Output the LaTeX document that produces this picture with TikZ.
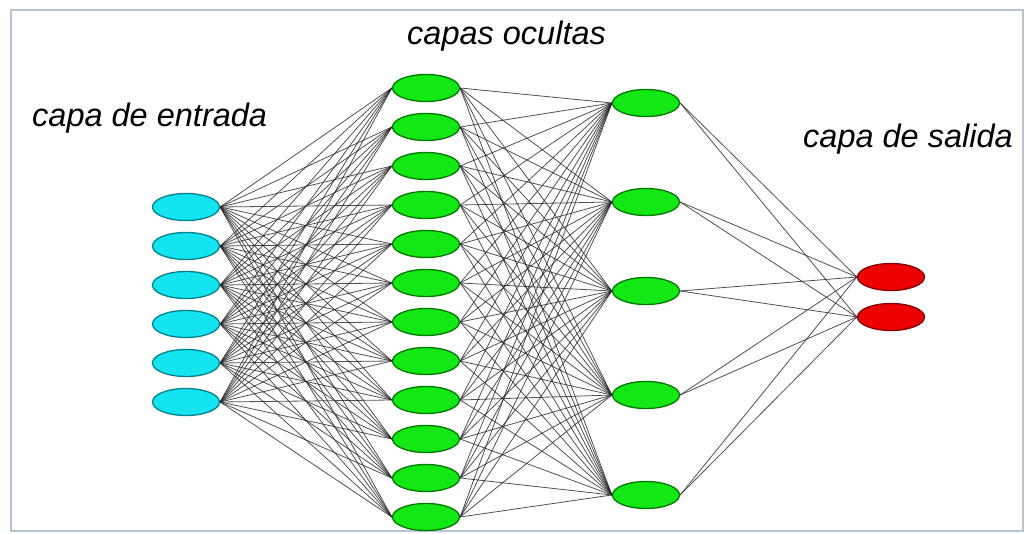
\documentclass[tikz,border=0pt]{standalone}
\usepackage{fontspec}
\setmainfont{Liberation Sans}
\usetikzlibrary{shapes.geometric}
\pgfdeclarelayer{canvas}
\pgfdeclarelayer{links}
\pgfsetlayers{canvas,links,main}
\definecolor{framecol}{RGB}{184,196,210}
\definecolor{inpfill}{RGB}{20,228,240}
\definecolor{inpline}{RGB}{0,130,140}
\definecolor{hidfill}{RGB}{20,232,20}
\definecolor{hidline}{RGB}{0,120,0}
\definecolor{outfill}{RGB}{236,0,0}
\definecolor{outline}{RGB}{130,0,0}
\tikzset{
  x=1pt, y=-1pt,
  neuron/.style={ellipse, draw, line width=1.3pt, minimum width=67pt, minimum height=27pt, inner sep=0pt},
  inneuron/.style={neuron, fill=inpfill, draw=inpline},
  hidneuron/.style={neuron, fill=hidfill, draw=hidline},
  outneuron/.style={neuron, fill=outfill, draw=outline},
  link/.style={draw=black!85, line width=0.8pt, opacity=0.8},
  layerlabel/.style={anchor=base west, inner sep=0pt, font=\fontsize{32.5}{38}\selectfont\itshape}
}
\begin{document}
\begin{tikzpicture}
\useasboundingbox (0,0) rectangle (1026,534);
\begin{pgfonlayer}{canvas}
  \fill[white] (0,0) rectangle (1026,534);
  \draw[framecol, line width=2.2pt] (11,10) rectangle (1023,531);
\end{pgfonlayer}

% input layer
\foreach \y [count=\i] in {207,246,285,324,363,402}
  \node[inneuron] (i\i) at (186,\y) {};
% first hidden layer
\foreach \y [count=\i] in {88,127,166,205,244,283,322,361,400,439,478,517}
  \node[hidneuron] (a\i) at (426,\y) {};
% second hidden layer
\foreach \y [count=\i] in {103,202,291,395,495}
  \node[hidneuron] (b\i) at (646,\y) {};
% output layer
\foreach \y [count=\i] in {277,317}
  \node[outneuron] (o\i) at (891,\y) {};

% connections, fully connected between consecutive layers
\begin{pgfonlayer}{links}
  \foreach \s in {1,...,6}
    \foreach \t in {1,...,12}
      \draw[link] (i\s.east) -- (a\t.west);
  \foreach \s in {1,...,12}
    \foreach \t in {1,...,5}
      \draw[link] (a\s.east) -- (b\t.west);
  \foreach \s in {1,...,5}
    \foreach \t in {1,2}
      \draw[link] (b\s.east) -- (o\t.west);
\end{pgfonlayer}

\node[layerlabel] (lin) at (32,127) {capa de entrada};
\node[layerlabel] (lhid) at (407,45) {capas ocultas};
\node[layerlabel] (lout) at (803,148) {capa de salida};
\end{tikzpicture}
\end{document}
